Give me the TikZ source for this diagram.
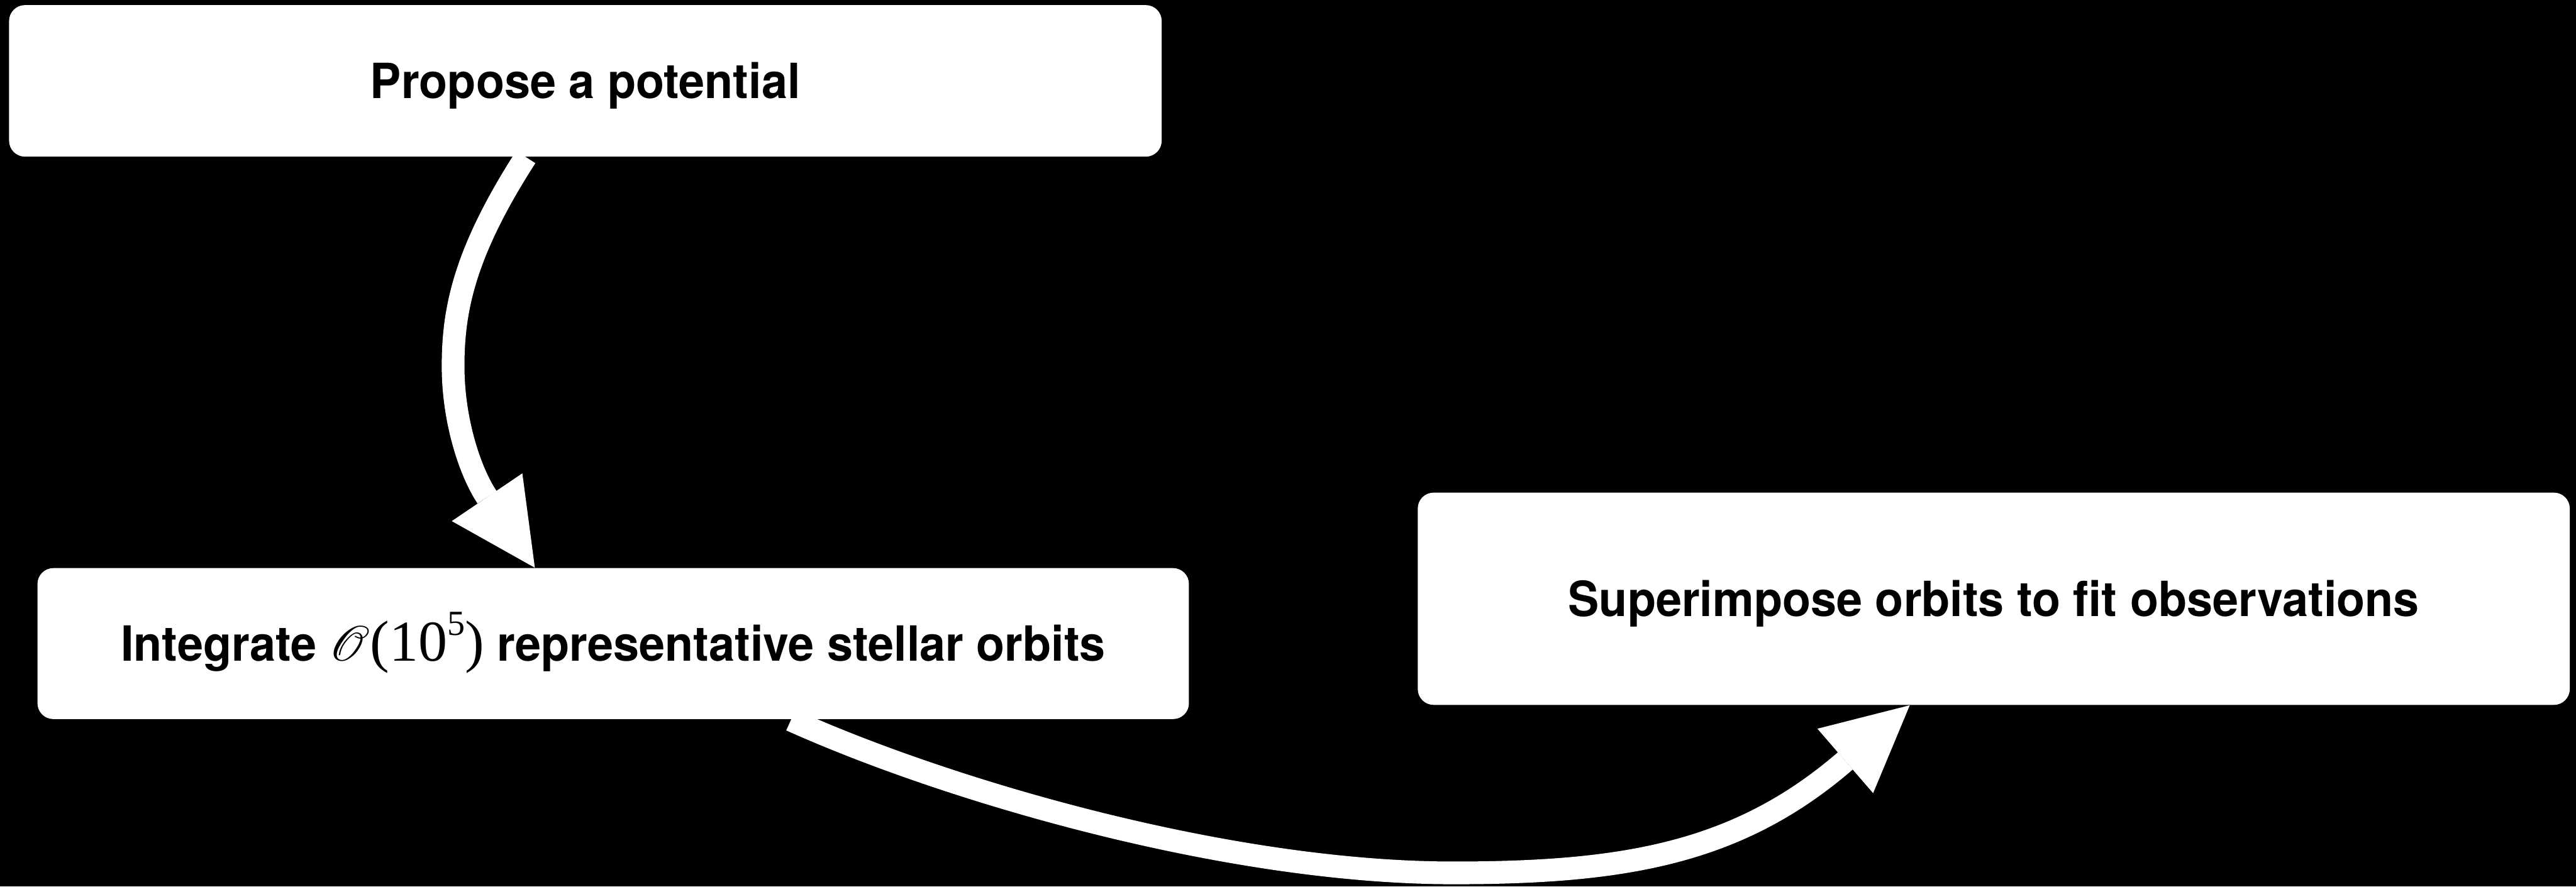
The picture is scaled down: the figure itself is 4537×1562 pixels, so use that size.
\documentclass[tikz,border=0pt]{standalone}
\usepackage{fontspec}
\usepackage{mathrsfs}
\usetikzlibrary{arrows.meta,calc}
\newfontfamily\boxfont[FakeStretch=0.957]{TeX Gyre Heros}
\newfontfamily\numfont{Liberation Serif}
\newcommand{\orderfive}{{\fontsize{29}{34}\selectfont$\mathscr{O}$\numfont\mdseries(10\raisebox{4.5mm}{\fontsize{17.7}{20}\selectfont 5})}}

\begin{document}
\begin{tikzpicture}[x=0.1mm, y=-0.1mm,
  stepbox/.style={draw=none, fill=white, rounded corners=2.8mm, inner sep=0pt,
    font=\boxfont\bfseries\fontsize{24.3}{29}\selectfont, text=black,
    text height=6.1mm, text depth=0pt, align=center},
  flow/.style={draw=white, line width=4mm,
    -{Triangle[length=15mm, width=15mm, line width=0pt]}}
]
  % black canvas
  \fill[black] (0,0) rectangle (4537,1562);

  % process steps
  \node[stepbox, minimum width=203mm, minimum height=26.7mm] (propose) at (1031,142.5)
    {Propose a potential};
  \node[stepbox, minimum width=202.8mm, minimum height=26.6mm] (integrate) at (1080,1134)
    {Integrate \orderfive{} representative stellar orbits};
  \node[stepbox, minimum width=202.9mm, minimum height=37.4mm] (superimpose) at (3511.5,1055)
    {Superimpose orbits to fit observations};

  % connectors
  \draw[flow] ($(propose.south)+(-105,0)$)
    .. controls +(-108,168) and (798,545) .. (798,645)
    .. controls (798,745) and (830,835) .. ($(integrate.north)+(-138,0)$);
  \draw[flow] ($(integrate.south)+(313,1)$)
    .. controls +(273,123) and (2160,1538) .. (2560,1538)
    .. controls (2860,1538) and (3061,1504) .. ($(superimpose.south)+(-148,0)$);
\end{tikzpicture}
\end{document}
